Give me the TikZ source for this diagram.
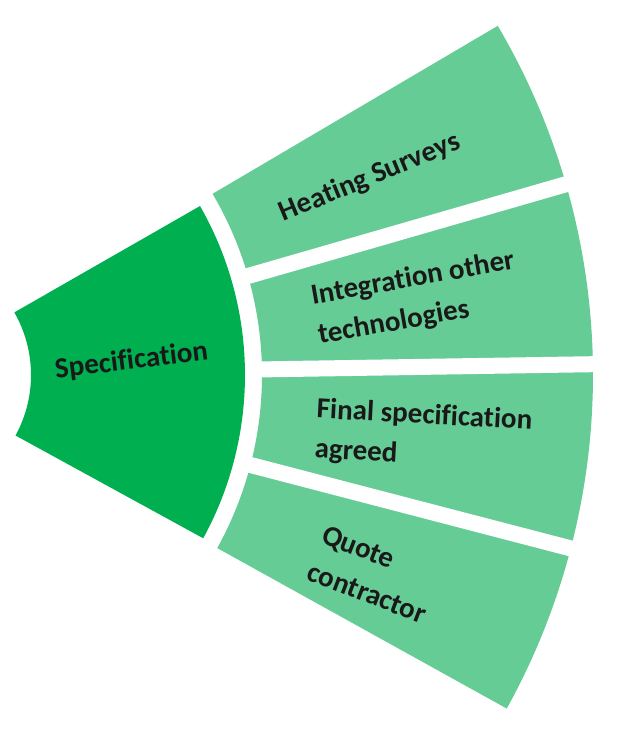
\documentclass[tikz,border=0pt]{standalone}
\usepackage{fontspec}
\setmainfont{Carlito}[Ligatures=NoCommon]
\definecolor{specfill}{RGB}{0,176,80}
\definecolor{stepfill}{RGB}{102,204,150}

\begin{document}
\begin{tikzpicture}[
  x=0.5pt, y=0.5pt,
  font=\bfseries\fontsize{14.5}{17}\selectfont,
  lbl/.style={align=left, inner sep=0pt, text=black!90},
  gap/.style={white, line width=8pt},
]
\useasboundingbox (95,-355) rectangle (729,375);

\fill[specfill] (29.8:126) arc[start angle=29.8, end angle=-28.7, radius=126]
  -- (-28.7:340) arc[start angle=-28.7, end angle=29.8, radius=340] -- cycle;

\foreach \a/\b in {16.1/30.5, 0.9/16.1, -14.6/0.9, -29/-14.6}
  \fill[stepfill] (\a:357) arc[start angle=\a, end angle=\b, radius=357]
    -- (\b:688) arc[start angle=\b, end angle=\a, radius=688] -- cycle;
\foreach \a in {16.1, 0.9, -14.6}
  \draw[gap] (\a:350) -- (\a:700);

\node[lbl, rotate=7] (spec) at (3.5:227) {Specification};
\node[lbl, rotate=22.5] (heat) at (23:505) {Heating Surveys};
\node[lbl, rotate=10] (integ) at (8.5:517) {Integration other\\[3pt]technologies};
\node[lbl, rotate=-3] (final) at (-6.7:522) {Final specification\\[3pt]agreed};
\node[lbl, rotate=-21] (quote) at (-23:510) {Quote\\[3pt]contractor};
\end{tikzpicture}
\end{document}
